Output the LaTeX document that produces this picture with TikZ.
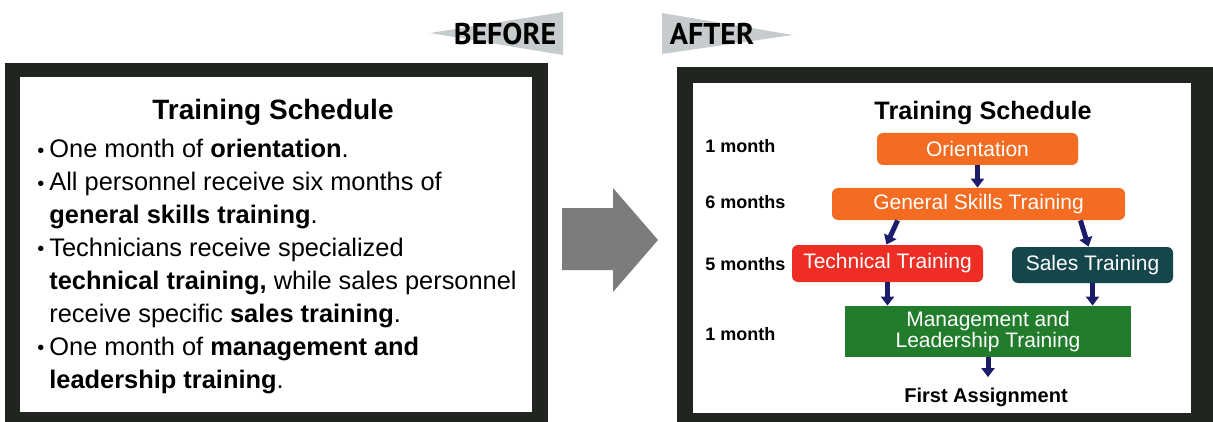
\documentclass[tikz,border=0pt]{standalone}
\usepackage{fontspec}
\setmainfont{Liberation Sans}
\newfontfamily\tagFont{PT Sans}
\usetikzlibrary{arrows.meta}
\definecolor{frameDark}{HTML}{202520}
\definecolor{pennantGray}{HTML}{C6CBCE}
\definecolor{shiftGray}{HTML}{7B7D7B}
\definecolor{orientOrange}{HTML}{F36C21}
\definecolor{techRed}{HTML}{EE2E24}
\definecolor{salesTeal}{HTML}{15464C}
\definecolor{mgmtGreen}{HTML}{217C2B}
\definecolor{flowNavy}{HTML}{1B1D6A}
\newcommand{\tsBullet}{\makebox[6pt][l]{\raisebox{0.3pt}{\fontsize{10}{10}\selectfont\textbullet}}}
\newcommand{\tsSize}[1]{\fontsize{#1}{#1}\selectfont}

\begin{document}
\begin{tikzpicture}[x=0.5pt,y=-0.5pt,
  tag/.style={anchor=base, inner sep=0pt, font=\tagFont\bfseries\tsSize{15}},
  bodyline/.style={anchor=base west, inner sep=0pt, font=\tsSize{12.7}},
  headline/.style={anchor=base, inner sep=0pt, font=\bfseries\tsSize{14}},
  rowlabel/.style={anchor=base west, inner sep=0pt, font=\bfseries\tsSize{9}},
  stage/.style={inner sep=0pt, text=white, align=center, font=\tsSize{10.5}, rounded corners=3pt},
  flow/.style={draw=flowNavy, line width=2.5pt, -{Triangle[width=6.5pt,length=4.5pt]}}]
\useasboundingbox (0,0) rectangle (1213,422);
\fill[frameDark] (5,63) rectangle (548,422);
\fill[white] (20,77) rectangle (532,412);
\fill[frameDark] (677,67) rectangle (1213,422);
\fill[white] (693,83) rectangle (1191,413);
\fill[shiftGray] (562,208) -- (613,208) -- (613,188) -- (658,240) -- (613,292) -- (613,270) -- (562,270) -- cycle;
\fill[pennantGray] (430,33) -- (563,12) -- (563,55) -- cycle;
\fill[pennantGray] (662,13) -- (662,54) -- (793,35) -- cycle;
\node[tag] (before) at (505,45) {BEFORE};
\node[tag] (after) at (712,45) {AFTER};

\node[headline] (beforeTitle) at (273,120) {Training Schedule};
\node[bodyline] (lineA) at (37,158) {\tsBullet One month of \textbf{orientation}.};
\node[bodyline] (lineB) at (37,191) {\tsBullet All personnel receive six months of};
\node[bodyline] (lineC) at (49,223) {\textbf{general skills training}.};
\node[bodyline] (lineD) at (37,256) {\tsBullet Technicians receive specialized};
\node[bodyline] (lineE) at (49,289) {\textbf{technical training,} while sales personnel};
\node[bodyline] (lineF) at (49,322) {receive specific \textbf{sales training}.};
\node[bodyline] (lineG) at (37,355) {\tsBullet One month of \textbf{management and}};
\node[bodyline] (lineH) at (49,388) {\textbf{leadership training}.};

\node[headline, font=\bfseries\tsSize{12.6}] (afterTitle) at (983,120) {Training Schedule};
\node[rowlabel] (rowOrient) at (705,153) {1 month};
\node[rowlabel] (rowGeneral) at (705,208) {6 months};
\node[rowlabel] (rowSplit) at (705,270) {5 months};
\node[rowlabel] (rowMgmt) at (705,340) {1 month};
\node[stage, fill=orientOrange, minimum width=100.5pt, minimum height=16pt] (orient) at (977.5,149) {Orientation};
\node[stage, fill=orientOrange, minimum width=146.5pt, minimum height=16pt] (general) at (978.5,204) {General Skills Training};
\node[stage, fill=techRed, minimum width=95.5pt, minimum height=18.5pt] (tech) at (887.5,263.5) {Technical Training};
\node[stage, fill=salesTeal, minimum width=80.5pt, minimum height=18pt] (sales) at (1092.5,265) {Sales Training};
\node[stage, fill=mgmtGreen, rounded corners=0pt, minimum width=143pt, minimum height=25.5pt, font=\fontsize{10.5}{10.5}\selectfont] (mgmt) at (988,331.5) {Management and\\Leadership Training};
\node[anchor=base, inner sep=0pt, font=\bfseries\tsSize{10}] (first) at (986,402) {First Assignment};

\draw[flow] (orient.south) -- (orient.south |- general.north);
\draw[flow] ([xshift=33pt]general.south west) -- ([xshift=-0.5pt]tech.north);
\draw[flow] ([xshift=-22.5pt]general.south east) -- ([xshift=-2pt]sales.north);
\draw[flow] (tech.south) -- (tech.south |- mgmt.north);
\draw[flow] (sales.south) -- (sales.south |- mgmt.north);
\draw[flow, shorten >=5pt] (mgmt.south) -- (mgmt.south |- first.north);
\end{tikzpicture}
\end{document}
